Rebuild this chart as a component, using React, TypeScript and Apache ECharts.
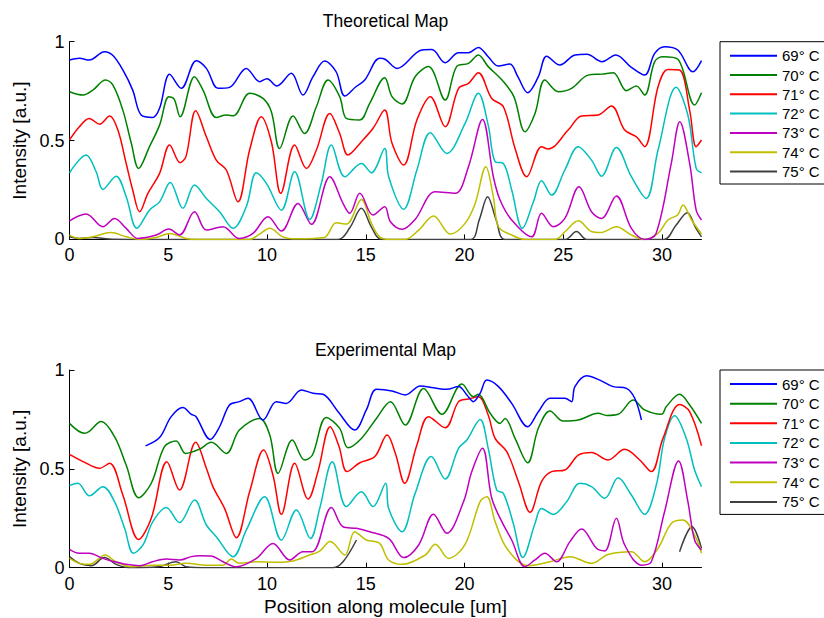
import React, { useEffect, useRef } from "react";
import * as echarts from "echarts";

const seriesNames = ["69° C", "70° C", "71° C", "72° C", "73° C", "74° C", "75° C"];
const seriesColors = ["#0000ff", "#008000", "#ff0000", "#00bfbf", "#bf00bf", "#bfbf00", "#404040"];
const xTicks = [0, 5, 10, 15, 20, 25, 30];
const yTicks = [0, 0.5, 1];
const titles = ["Theoretical Map", "Experimental Map"];

// Theoretical map: [position (um), intensity]
const theo69 = [[0,0.907],[0.5,0.916],[1.0,0.907],[1.77,0.949],[2.2,0.93],[2.7,0.857],[3.2,0.755],[3.63,0.629],[4.22,0.617],[4.56,0.663],[5.07,0.835],[5.66,0.764],[6.42,0.904],[6.93,0.865],[7.52,0.764],[8.1,0.769],[8.95,0.865],[9.63,0.798],[10,0.813],[10.5,0.776],[11.23,0.84],[11.82,0.73],[12.33,0.823],[12.92,0.902],[13.5,0.848],[13.94,0.725],[14.5,0.772],[14.95,0.806],[15.7,0.916],[16.0,0.91],[16.58,0.865],[17.85,0.958],[18.35,0.96],[19.02,0.894],[19.7,0.944],[20.2,0.944],[20.7,0.971],[21.2,0.924],[21.7,0.877],[22.3,0.887],[22.7,0.823],[23.2,0.742],[23.74,0.823],[24.16,0.927],[24.83,0.882],[25.6,0.933],[26.2,0.936],[26.97,0.899],[27.66,0.933],[28.45,0.87],[29.12,0.831],[29.63,0.941],[30.13,0.975],[30.8,0.958],[31.57,0.848],[32,0.904]];
const theo70 = [[0,0.747],[0.68,0.73],[1.18,0.755],[1.82,0.806],[2.2,0.78],[2.7,0.654],[3.13,0.486],[3.5,0.359],[4.05,0.469],[4.56,0.578],[5.03,0.722],[5.3,0.71],[5.6,0.62],[6.33,0.823],[6.76,0.755],[7.43,0.617],[7.94,0.629],[8.3,0.625],[9.12,0.739],[9.8,0.713],[10.22,0.646],[10.64,0.46],[11.32,0.624],[11.9,0.536],[12.5,0.671],[13.09,0.806],[13.68,0.722],[14.02,0.612],[14.7,0.604],[15.2,0.688],[15.96,0.818],[16.33,0.722],[16.84,0.685],[17.5,0.823],[18.18,0.874],[19.02,0.705],[19.6,0.874],[20.2,0.89],[20.7,0.933],[21.2,0.874],[21.9,0.806],[22.5,0.722],[23.06,0.545],[23.57,0.637],[24.07,0.806],[24.75,0.747],[25.42,0.764],[26.26,0.831],[26.94,0.836],[27.53,0.843],[28.2,0.752],[28.7,0.776],[29.12,0.73],[29.63,0.899],[30.05,0.924],[30.8,0.911],[31.65,0.68],[32,0.742]];
const theo71 = [[0,0.503],[0.5,0.57],[1.0,0.612],[1.52,0.583],[2.03,0.624],[2.45,0.553],[2.87,0.384],[3.2,0.25],[3.55,0.14],[3.97,0.233],[4.56,0.334],[5.07,0.477],[5.6,0.388],[5.9,0.42],[6.39,0.651],[6.93,0.519],[7.43,0.401],[7.94,0.351],[8.53,0.19],[9.12,0.452],[9.71,0.621],[10.22,0.494],[10.7,0.233],[11.4,0.477],[12.0,0.359],[12.5,0.452],[13.18,0.637],[13.68,0.536],[14.1,0.427],[14.78,0.494],[15.37,0.562],[15.96,0.654],[16.33,0.486],[16.92,0.376],[17.59,0.604],[18.27,0.722],[19.02,0.57],[19.7,0.764],[20.2,0.789],[20.7,0.843],[21.38,0.713],[21.97,0.671],[22.56,0.46],[23.15,0.317],[23.9,0.469],[24.24,0.457],[25.25,0.553],[25.92,0.624],[26.77,0.629],[27.44,0.675],[28.11,0.553],[28.7,0.519],[29.12,0.469],[29.8,0.772],[30.3,0.86],[30.89,0.857],[31.4,0.654],[31.73,0.469],[32,0.503]];
const theo72 = [[0,0.337],[0.84,0.427],[1.35,0.342],[1.69,0.253],[2.36,0.32],[2.87,0.216],[3.41,0.056],[4.05,0.148],[4.56,0.19],[5.1,0.288],[5.74,0.157],[6.33,0.275],[6.93,0.207],[7.6,0.14],[8.28,0.056],[8.95,0.165],[9.46,0.337],[9.97,0.283],[10.73,0.148],[11.4,0.342],[12.16,0.101],[12.75,0.283],[13.26,0.477],[13.94,0.317],[14.78,0.384],[15.29,0.337],[15.96,0.46],[16.16,0.317],[16.92,0.153],[17.59,0.351],[18.27,0.54],[19.1,0.435],[20.03,0.587],[20.7,0.739],[21.2,0.578],[21.55,0.393],[21.97,0.384],[22.39,0.25],[22.93,0.056],[23.49,0.19],[23.9,0.297],[24.41,0.224],[25.08,0.351],[25.76,0.469],[26.43,0.401],[26.94,0.32],[27.69,0.465],[28.45,0.317],[29.2,0.207],[29.8,0.452],[30.72,0.769],[31.31,0.629],[31.73,0.359],[32,0.337]];
const theo73 = [[0,0.094],[0.84,0.128],[1.69,0.064],[2.28,0.106],[2.87,0.056],[3.46,0.005],[4.39,0.022],[5.03,0.052],[5.57,0.022],[6.33,0.14],[6.93,0.047],[7.77,0.064],[8.6,0.005],[9.29,0.03],[10.05,0.115],[10.73,0.042],[11.57,0.182],[12.25,0.076],[13.18,0.317],[13.85,0.182],[14.19,0.132],[14.7,0.233],[15.37,0.123],[15.96,0.165],[16.25,0.089],[16.84,0.051],[17.5,0.101],[18.52,0.241],[19.53,0.233],[20.2,0.368],[20.91,0.607],[21.46,0.317],[21.8,0.199],[22.39,0.098],[23.4,0.013],[23.9,0.132],[24.5,0.064],[25.08,0.106],[25.8,0.266],[26.43,0.14],[26.94,0.106],[27.69,0.219],[28.45,0.056],[29.12,0],[29.7,0.03],[30.47,0.385],[30.9,0.595],[31.4,0.385],[31.73,0.148],[32,0.098]];
const theo74 = [[0,0.022],[0.5,0.005],[1.18,0.013],[2.1,0.035],[2.87,0.013],[3.55,0],[4.39,0.01],[5.07,0.03],[5.9,0.005],[6.5,0],[9.12,0],[9.6,0.025],[10.14,0.057],[10.8,0.013],[11.5,0.003],[12.9,0.01],[13.5,0.084],[14.02,0.078],[14.78,0.202],[15.29,0.081],[15.7,0.013],[16.2,0],[17,0],[17.68,0.047],[18.43,0.118],[19.28,0.027],[20.03,0.081],[20.54,0.182],[21.08,0.368],[21.46,0.216],[21.72,0.064],[22.39,0.022],[23.06,0],[24.6,0],[25.1,0.04],[25.76,0.094],[26.43,0.04],[26.9,0.035],[27.69,0.064],[28.45,0.022],[29.12,0],[29.79,0.03],[30.3,0.098],[30.8,0.125],[31.06,0.174],[31.5,0.098],[32,0.027]];
const theo75 = [[0,0.015],[0.5,0.005],[1.2,0.01],[2,0.002],[3,0],[13.6,0],[14.2,0.06],[14.78,0.157],[15.3,0.06],[15.8,0],[20.3,0],[20.75,0.1],[21.17,0.216],[21.6,0.1],[22.05,0],[25.1,0],[25.67,0.04],[26.2,0],[30.1,0],[30.7,0.07],[31.28,0.135],[31.7,0.06],[32,0.013]];

// Experimental map
const exp69 = [[3.85,0.616],[4.56,0.658],[5.15,0.764],[5.74,0.81],[6.17,0.776],[6.4,0.765],[7.13,0.649],[7.6,0.713],[8.1,0.823],[8.6,0.84],[9.04,0.857],[9.8,0.747],[10.47,0.84],[10.98,0.831],[11.74,0.899],[12.33,0.882],[12.84,0.877],[13.6,0.789],[14.44,0.696],[15.03,0.798],[15.54,0.902],[16.33,0.894],[17.0,0.874],[17.76,0.919],[18.43,0.91],[19.1,0.902],[19.7,0.916],[20.12,0.874],[20.45,0.84],[20.79,0.882],[21.13,0.949],[21.72,0.916],[22.39,0.831],[23.2,0.713],[23.74,0.789],[24.33,0.857],[25.08,0.857],[25.42,0.84],[25.59,0.916],[26.18,0.971],[26.85,0.949],[27.53,0.916],[28.2,0.907],[28.62,0.857],[28.96,0.747]];
const exp70 = [[0,0.73],[0.76,0.68],[1.0,0.69],[1.6,0.739],[2.28,0.663],[2.87,0.519],[3.5,0.354],[4.14,0.427],[4.81,0.612],[5.4,0.641],[5.88,0.578],[6.59,0.6],[7.18,0.634],[7.94,0.578],[8.6,0.696],[9.63,0.755],[10.14,0.671],[10.56,0.477],[11.28,0.646],[11.9,0.545],[12.3,0.57],[13.0,0.76],[13.68,0.705],[14.1,0.607],[14.78,0.654],[15.54,0.755],[16.25,0.84],[17.0,0.722],[17.93,0.907],[18.86,0.776],[19.87,0.929],[20.45,0.865],[20.7,0.877],[21.3,0.781],[21.8,0.73],[22.05,0.755],[22.56,0.654],[23.2,0.531],[23.74,0.705],[24.33,0.793],[25.0,0.742],[25.76,0.747],[26.77,0.781],[27.2,0.77],[27.78,0.776],[28.54,0.848],[29.12,0.798],[29.97,0.776],[30.22,0.815],[30.89,0.877],[31.4,0.823],[32,0.73]];
const exp71 = [[0,0.573],[0.76,0.533],[1.52,0.503],[2.03,0.528],[2.7,0.368],[3.5,0.143],[4.14,0.25],[4.93,0.536],[5.57,0.393],[6.39,0.634],[6.93,0.503],[7.26,0.41],[7.85,0.3],[8.45,0.152],[9.12,0.384],[9.83,0.595],[10.3,0.469],[10.73,0.27],[11.4,0.528],[12.08,0.347],[12.58,0.486],[13.2,0.713],[13.65,0.612],[14.05,0.486],[14.7,0.531],[15.46,0.562],[16.08,0.671],[16.5,0.578],[16.97,0.427],[17.59,0.621],[18.18,0.764],[19.02,0.708],[19.7,0.84],[20.2,0.853],[20.71,0.865],[21.2,0.772],[21.55,0.654],[22.14,0.587],[22.73,0.435],[23.32,0.28],[23.9,0.435],[24.41,0.486],[25.08,0.494],[25.76,0.57],[26.43,0.583],[27.27,0.545],[28.11,0.599],[28.87,0.545],[29.46,0.486],[30.05,0.654],[30.89,0.826],[31.4,0.789],[32,0.617]];
const exp72 = [[0,0.415],[0.42,0.427],[1.01,0.364],[1.69,0.41],[2.28,0.334],[2.79,0.199],[3.24,0.073],[3.72,0.115],[4.22,0.233],[4.9,0.304],[5.57,0.228],[6.33,0.342],[6.93,0.216],[7.43,0.157],[8.28,0.056],[8.95,0.19],[9.88,0.359],[10.73,0.14],[11.49,0.292],[12.2,0.148],[12.67,0.3],[13.31,0.536],[14.02,0.309],[14.78,0.384],[15.37,0.309],[16.01,0.427],[16.16,0.3],[16.84,0.182],[17.5,0.376],[18.32,0.562],[19.02,0.449],[19.7,0.604],[20.12,0.646],[20.79,0.75],[21.2,0.604],[21.63,0.393],[21.97,0.376],[22.47,0.224],[22.95,0.052],[23.57,0.224],[23.9,0.3],[24.5,0.27],[25.17,0.334],[25.84,0.427],[26.43,0.41],[27.1,0.351],[27.78,0.455],[28.45,0.368],[29.12,0.27],[29.71,0.418],[30.13,0.654],[30.64,0.769],[31.23,0.654],[31.65,0.494],[32,0.41]];
const exp73 = [[0,0.093],[0.5,0.073],[1.0,0.073],[1.69,0.047],[2.28,0.03],[2.87,0.017],[3.55,0.01],[4.2,0.03],[4.9,0.044],[5.57,0.039],[6.17,0.056],[6.59,0.061],[7.18,0.059],[7.77,0.03],[8.45,0.005],[9.46,0.047],[10.3,0.123],[11.15,0.039],[11.82,0.081],[12.3,0.081],[13.26,0.305],[13.85,0.207],[14.53,0.199],[15.2,0.182],[16.16,0.148],[16.92,0.051],[17.68,0.115],[18.43,0.27],[19.1,0.174],[19.95,0.334],[20.37,0.486],[20.91,0.604],[21.38,0.351],[21.89,0.233],[22.39,0.14],[23.06,0.005],[23.57,0.039],[24.07,0.073],[24.66,0.03],[25.34,0.132],[25.93,0.196],[26.68,0.098],[27.1,0.085],[27.69,0.25],[28.11,0.115],[28.96,0.013],[29.46,0.03],[30.13,0.283],[30.84,0.54],[31.31,0.334],[31.65,0.14],[32,0.089]];
const exp74 = [[0,0.047],[0.5,0.022],[1.0,0.017],[1.82,0.064],[2.28,0.034],[3.13,0.005],[4.22,0.013],[5.07,0.013],[5.9,0.022],[6.93,0.013],[7.77,0.013],[8.19,0.044],[8.6,0.022],[9.46,0.03],[10.47,0.027],[11.32,0.034],[12.16,0.064],[12.67,0.084],[13.2,0.132],[13.94,0.064],[14.44,0.182],[15.03,0.14],[15.7,0.123],[16.16,0.039],[16.84,0.017],[18.01,0.064],[18.52,0.118],[19.19,0.047],[20.03,0.118],[20.79,0.334],[21.13,0.359],[21.55,0.233],[22.14,0.098],[23.23,0.01],[24.33,0.03],[25.34,0.056],[26.43,0.022],[27.27,0.067],[28.45,0.081],[29.12,0.03],[29.8,0.098],[30.47,0.224],[31.06,0.241],[31.65,0.165],[32,0.073]];
const exp75 = [[0,0.056],[0.5,0.022],[1.1,0.01],[1.77,0.051],[2.36,0.017],[3.04,0],[4.5,0.005],[5.4,0.03],[5.9,0.005],[7,0],[13.34,0],[13.85,0.03],[14.53,0.14],null,[30.89,0.081],[31.52,0.207],[32,0.098]];

const theoData = [theo69, theo70, theo71, theo72, theo73, theo74, theo75];
const expData = [exp69, exp70, exp71, exp72, exp73, exp74, exp75];

const FONT = "'Liberation Sans', Arial, Helvetica, sans-serif";

export default function App() {
  const ref = useRef<HTMLDivElement>(null);
  useEffect(() => {
    if (!ref.current) return;
    const chart = echarts.init(ref.current, null, { renderer: "svg" });
    const gridTops = [41.7, 370];
    const gridH = 197.7;
    const grids = gridTops.map((t) => ({ left: 69.5, top: t, width: 632, height: gridH, show: false }));
    const mkX = (i: number) => ({
      type: "value",
      gridIndex: i,
      min: 0,
      max: 32,
      interval: 5,
      name: i === 1 ? "Position along molecule [um]" : "",
      nameLocation: "middle",
      nameGap: 29,
      nameTextStyle: { color: "#000", fontSize: 19, fontFamily: FONT },
      axisLine: { show: true, lineStyle: { color: "#000", width: 1 } },
      axisTick: { show: true, inside: true, length: 5, customValues: xTicks, lineStyle: { color: "#000" } },
      axisLabel: { show: true, customValues: xTicks, color: "#000", fontSize: 18, fontFamily: FONT, margin: 7 },
      splitLine: { show: false },
    });
    const mkY = (i: number) => ({
      type: "value",
      gridIndex: i,
      min: 0,
      max: 1,
      interval: 0.5,
      name: "Intensity [a.u.]",
      nameLocation: "middle",
      nameGap: 40,
      nameTextStyle: { color: "#000", fontSize: 19, fontFamily: FONT },
      axisLine: { show: true, lineStyle: { color: "#000", width: 1 } },
      axisTick: { show: true, inside: true, length: 5, customValues: yTicks, lineStyle: { color: "#000" } },
      axisLabel: { show: true, customValues: yTicks, color: "#000", fontSize: 18, fontFamily: FONT, margin: 5 },
      splitLine: { show: false },
    });
    const series: any[] = [];
    [theoData, expData].forEach((set, gi) => {
      set.forEach((d, si) => {
        series.push({
          type: "line",
          name: seriesNames[si],
          xAxisIndex: gi,
          yAxisIndex: gi,
          data: d,
          smooth: 0.35,
          symbol: "none",
          connectNulls: false,
          lineStyle: { color: seriesColors[si], width: 1.5 },
          itemStyle: { color: seriesColors[si] },
          z: 10 - si,
        });
      });
    });
    const mkLegend = (top: number, gap: number) => ({
      orient: "vertical",
      left: 720,
      top,
      data: seriesNames,
      selectedMode: false,
      icon: "rect",
      itemWidth: 47,
      itemHeight: 2,
      itemGap: gap,
      padding: [6.5, 30, 5, 10],
      borderColor: "#000",
      borderWidth: 1,
      backgroundColor: "#fff",
      textStyle: { color: "#000", fontSize: 15, fontFamily: FONT, lineHeight: 15 },
    });
    chart.setOption({
      animation: false,
      backgroundColor: "#fff",
      title: titles.map((t, i) => ({
        text: t,
        left: 385.5,
        top: i === 0 ? 11.5 : 341,
        padding: 0,
        textAlign: "center",
        textStyle: { color: "#000", fontSize: 17.5, fontWeight: "normal", fontFamily: FONT },
      })),
      legend: [mkLegend(41.7, 4.3), mkLegend(370, 4.65)],
      grid: grids,
      xAxis: [mkX(0), mkX(1)],
      yAxis: [mkY(0), mkY(1)],
      series,
    });
    return () => chart.dispose();
  }, []);
  return <div ref={ref} style={{ position: "fixed", left: 0, top: 0, width: 824, height: 618 }} />;
}
